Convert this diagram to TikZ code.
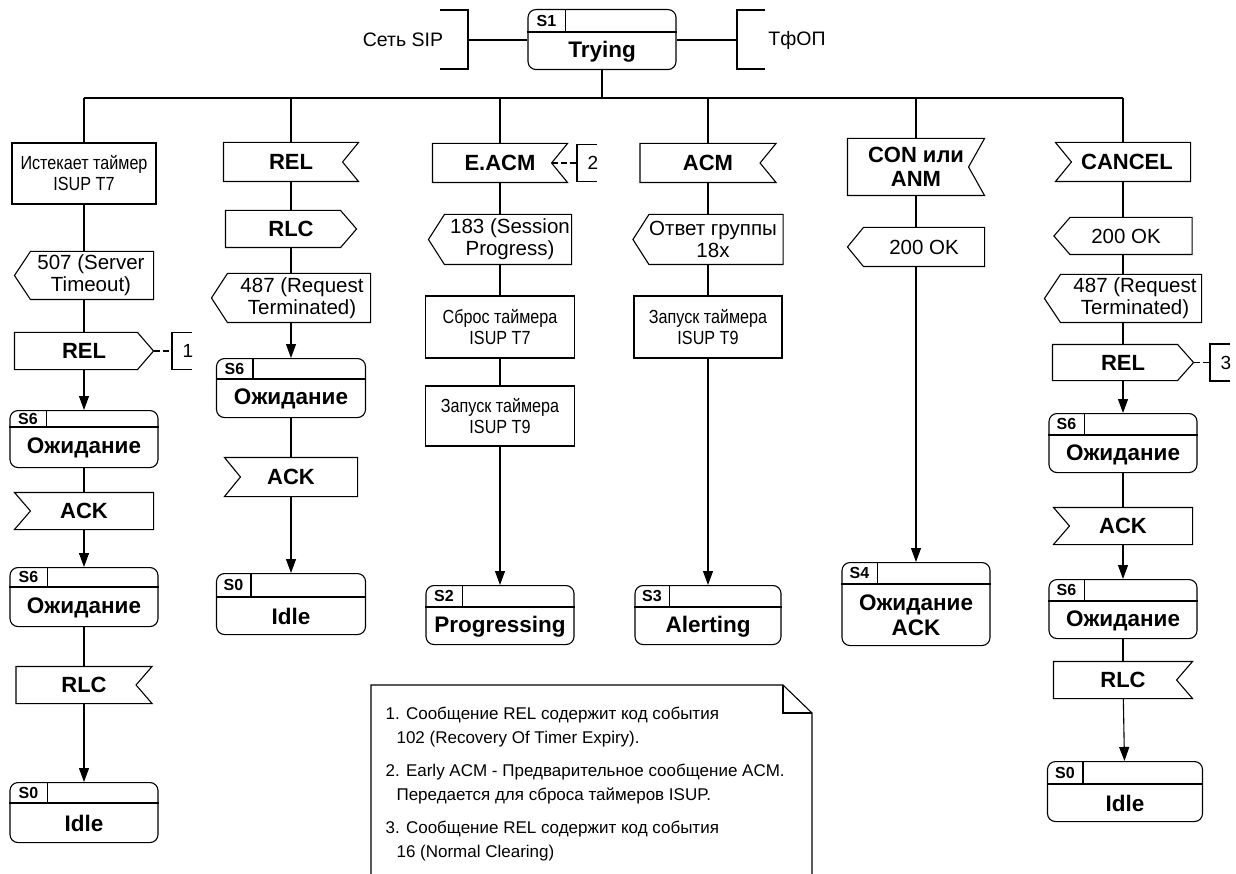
\documentclass[tikz,border=0pt]{standalone}
\usepackage{fontspec}
\setmainfont{Liberation Sans}
\newfontfamily\condfont[FakeStretch=0.85]{Liberation Sans}
\usetikzlibrary{arrows.meta}

\newcommand{\sigfont}{\bfseries\fontsize{22}{24}\selectfont}
\newcommand{\respfont}{\fontsize{20.5}{22}\selectfont}
\newcommand{\taskfont}{\condfont\fontsize{19}{21}\selectfont}
\newcommand{\stfont}{\bfseries\fontsize{22.5}{25}\selectfont}
\newcommand{\slfont}{\bfseries\fontsize{16}{16}\selectfont}
\newcommand{\notefont}{\fontsize{17}{24}\selectfont}

% SDL state: name, x, top, width, height, header height, cell width, number, text
\newcommand{\sdlstate}[9]{%
  \node[statebox, minimum width=#4pt, minimum height=#5pt, anchor=north] (#1) at (#2,#3) {};
  \draw ([yshift=-#6pt]#1.north west) -- ([yshift=-#6pt]#1.north east);
  \draw ([xshift=#7pt]#1.north west) -- ([xshift=#7pt,yshift=-#6pt]#1.north west);
  \node[slabel] (#1-s) at ([xshift=#7pt/2,yshift=-#6pt/2]#1.north west) {#8};
  \node[stname] (#1-n) at ([yshift=#5pt/2-#6pt/2]#1.south) {#9};
}

\begin{document}
\begin{tikzpicture}[
x=1pt,y=-1pt,
line width=1.1pt,
sz/.style 2 args={minimum width=#1pt, minimum height=#2pt},
sig/.style={inner sep=1pt, align=center, font=\sigfont},
% output to SIP side (point on the left)
sigoutL/.style={sig, append after command={\pgfextra{\draw (\tikzlastnode.north east)
  -- ([xshift=16pt]\tikzlastnode.north west) -- (\tikzlastnode.west)
  -- ([xshift=16pt]\tikzlastnode.south west) -- (\tikzlastnode.south east) -- cycle;}}},
% output to PSTN side (point on the right)
sigoutR/.style={sig, append after command={\pgfextra{\draw (\tikzlastnode.north west)
  -- ([xshift=-16pt]\tikzlastnode.north east) -- (\tikzlastnode.east)
  -- ([xshift=-16pt]\tikzlastnode.south east) -- (\tikzlastnode.south west) -- cycle;}}},
% input from SIP side (notch on the left)
siginL/.style={sig, append after command={\pgfextra{\draw (\tikzlastnode.north west)
  -- (\tikzlastnode.north east) -- (\tikzlastnode.south east)
  -- (\tikzlastnode.south west) -- ([xshift=16pt]\tikzlastnode.west) -- cycle;}}},
% input from PSTN side (notch on the right)
siginR/.style={sig, append after command={\pgfextra{\draw (\tikzlastnode.north west)
  -- (\tikzlastnode.north east) -- ([xshift=-16pt]\tikzlastnode.east)
  -- (\tikzlastnode.south east) -- (\tikzlastnode.south west) -- cycle;}}},
resp/.style={inner sep=0pt, align=center, font=\respfont},
task/.style={draw, inner sep=1pt, align=center, font=\taskfont},
statebox/.style={draw, rounded corners=8pt, inner sep=0pt},
slabel/.style={inner sep=0pt, font=\slfont},
stname/.style={inner sep=0pt, align=center, font=\stfont},
portname/.style={inner sep=0pt, font=\fontsize{19.5}{21}\selectfont},
cmtext/.style={inner sep=0pt, font=\fontsize{19}{21}\selectfont},
notetext/.style={inner sep=0pt, align=left, font=\notefont},
flowarr/.style={-{Triangle[length=14pt,width=10pt]}}
]
\useasboundingbox (0,0) rectangle (1236,874);

% top: state S1 between the two sides
\sdlstate{trying}{602}{9}{148}{60}{23}{38}{S1}{Trying}
\node[portname] (sip) at (403,40) {Сеть SIP};
\node[portname] (pstn) at (797,40) {ТфОП};
\coordinate (sipj) at (468,40);
\coordinate (pstnj) at (737,40);
\draw ([xshift=-28pt,yshift=30pt]sipj) -| ([yshift=-29pt]sipj) -- ++(-28,0);
\draw ([xshift=28pt,yshift=30pt]pstnj) -| ([yshift=-29pt]pstnj) -- ++(28,0);
\draw (sipj) -- (trying.west |- sipj);
\draw (trying.east |- pstnj) -- (pstnj);

\foreach \c/\x in {1/84, 2/291, 3/500, 4/708, 5/916, 6/1123}
  \coordinate (bus\c) at (\x,98);
\draw (bus1) -- (bus6);
\draw (trying.south) -- (trying.south |- bus1);

% column 1: timer T7 expiry
\node[task, sz={144}{61}] (t7exp) at (84,173.5) {Истекает таймер\\ISUP T7};
\node[sigoutL, sz={138}{47}, label={[resp, xshift=7pt]center:507 (Server\\Timeout)}] (s507) at (84,275.5) {};
\node[sigoutR, sz={138}{36}] (rel1) at (84,351) {REL};
\sdlstate{st1a}{84}{410}{148}{57}{17}{37}{S6}{Ожидание}
\node[siginL, sz={138}{36}] (ack1) at (84,511) {ACK};
\sdlstate{st1b}{84}{567}{148}{59}{20}{38}{S6}{Ожидание}
\node[siginR, sz={135}{36}] (rlc1) at (84,685) {RLC};
\sdlstate{st1c}{84}{782}{148}{60}{21}{38}{S0}{Idle}

% column 2: REL from PSTN
\node[siginR, sz={134}{38}] (rel2) at (291,162) {REL};
\node[sigoutR, sz={130}{36}] (rlc2) at (291,229) {RLC};
\node[sigoutL, sz={158}{48}, label={[resp, xshift=11pt]center:487 (Request\\Terminated)}] (s487a) at (291,298) {};
\sdlstate{st2a}{291}{358}{149}{59}{21}{37}{S6}{Ожидание}
\node[siginL, sz={132}{38}] (ack2) at (291,477) {ACK};
\sdlstate{st2b}{291}{573}{149}{61}{24}{35}{S0}{Idle}

% column 3: early ACM
\node[siginR, sz={134}{38}] (eacm) at (500,163) {E.ACM};
\node[sigoutL, sz={142}{49}, label={[resp, xshift=10pt]center:183 (Session\\Progress)}] (s183) at (500,239.5) {};
\node[task, sz={149}{62}] (t7rst) at (500,327) {Сброс таймера\\ISUP T7};
\node[task, sz={149}{60}] (t9a) at (500,416) {Запуск таймера\\ISUP T9};
\sdlstate{st3}{500}{585}{148}{59}{22}{37}{S2}{Progressing}

% column 4: ACM
\node[siginR, sz={135}{38}] (acm) at (708,163) {ACM};
\node[sigoutL, sz={149}{49}, label={[resp, xshift=5pt]center:Ответ группы\\18x}] (s18x) at (708,239.5) {};
\node[task, sz={148}{62}] (t9b) at (708,327) {Запуск таймера\\ISUP T9};
\sdlstate{st4}{708}{585}{146}{59}{22}{35}{S3}{Alerting}

% column 5: answer
\node[siginR, sz={136}{56}] (con) at (916,167) {CON или\\ANM};
\node[sigoutL, sz={136}{38}, label={[resp, xshift=8pt]center:200 OK}] (s200a) at (916,247) {};
\sdlstate{st5}{916}{562}{148}{83}{22}{36}{S4}{Ожидание\\ACK}

% column 6: CANCEL from SIP
\node[siginL, sz={134}{38}] (cancel) at (1123,162) {\hspace*{8pt}CANCEL};
\node[sigoutL, sz={137}{36}, label={[resp, xshift=3pt]center:200 OK}] (s200b) at (1123,236) {};
\node[sigoutL, sz={156}{47}, label={[resp, xshift=12pt]center:487 (Request\\Terminated)}] (s487b) at (1123,298.5) {};
\node[sigoutR, sz={140}{35}] (rel6) at (1123,362.5) {REL};
\sdlstate{st6a}{1123}{413}{148}{59}{22}{36}{S6}{Ожидание}
\node[siginL, sz={138}{36}] (ack6) at (1123,526) {ACK};
\sdlstate{st6b}{1123}{579}{148}{59}{22}{36}{S6}{Ожидание}
\node[siginR, sz={138}{36}] (rlc6) at (1123,680) {RLC};
\sdlstate{st6c}{1125}{761}{155}{60}{23}{36}{S0}{Idle}

% flow lines
\foreach \c/\n in {1/t7exp, 2/rel2, 3/eacm, 4/acm, 5/con, 6/cancel}
  \draw (bus\c) -- (\n);
\foreach \a/\b in {t7exp/s507, s507/rel1, st1a/ack1, st1b/rlc1,
                   rel2/rlc2, rlc2/s487a, st2a/ack2,
                   eacm/s183, s183/t7rst, t7rst/t9a,
                   acm/s18x, s18x/t9b,
                   con/s200a,
                   cancel/s200b, s200b/s487b, s487b/rel6, st6a/ack6, st6b/rlc6}
  \draw (\a) -- (\b);
\foreach \a/\b in {rel1/st1a, ack1/st1b, rlc1/st1c, s487a/st2a, ack2/st2b,
                   t9a/st3, t9b/st4, s200a/st5, rel6/st6a, ack6/st6b, rlc6/st6c}
  \draw[flowarr] (\a) -- (\b);

% comment brackets
\foreach \src/\bx/\num/\off in {rel1/172/1/0, eacm/577/2/-16, rel6/1210/3/0} {
  \coordinate (cm\num) at (\src.east -| \bx,0);
  \draw[dash pattern=on 6pt off 3pt] ([xshift=\off pt]\src.east) -- (cm\num);
  \draw ([xshift=20pt,yshift=18.5pt]cm\num) -| ([yshift=-18.5pt]cm\num) -- ++(20,0);
  \node[cmtext] (cmt\num) at ([xshift=16pt]cm\num) {\num};
}

% note with folded corner
\draw (371,880) -- (371,685) -- (783,685) -- (812,713) -- (812,880);
\draw (783,685) -- (783,713) -- (812,713);
\node[notetext, anchor=north west] (notes) at (385,706) {%
1. Сообщение REL содержит код события\\
\hspace*{11pt}102 (Recovery Of Timer Expiry).\\[9pt]
2. Early ACM - Предварительное сообщение ACM.\\
\hspace*{11pt}Передается для сброса таймеров ISUP.\\[9pt]
3. Сообщение REL содержит код события\\
\hspace*{11pt}16 (Normal Clearing)};
\end{tikzpicture}
\end{document}
